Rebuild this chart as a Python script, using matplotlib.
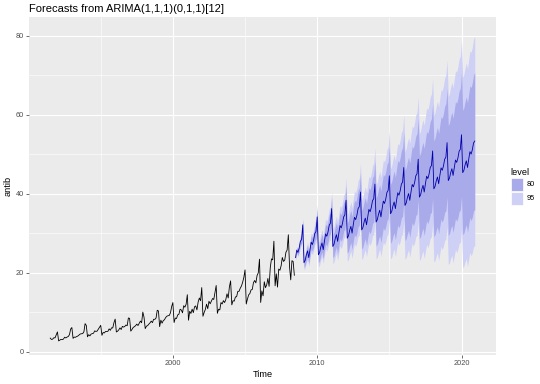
import numpy as np
import matplotlib
matplotlib.use("Agg")
import matplotlib.pyplot as plt
from matplotlib.patches import Rectangle

plt.rcParams['font.family'] = ['Liberation Sans', 'DejaVu Sans']

title = "Forecasts from ARIMA(1,1,1)(0,1,1)[12]"
x_label = "Time"
y_label = "antib"
start_hist = 1991.5   # July 1991, monthly
start_fc = 2008.5     # July 2008, monthly

antib = [
    3.53, 3.18, 3.25, 3.61, 3.57, 4.31,
    5.09, 2.81, 2.99, 3.20, 3.13, 3.27, 3.74, 3.56, 3.78, 3.92, 4.39, 5.81,
    6.19, 3.45, 3.77, 3.73, 3.91, 4.05, 4.32, 4.56, 4.61, 4.67, 5.09, 7.18,
    6.73, 3.84, 4.39, 4.08, 4.54, 4.65, 4.75, 5.35, 5.20, 5.30, 5.77, 6.20,
    6.75, 4.22, 4.95, 4.82, 5.19, 5.17, 5.26, 5.86, 5.49, 6.12, 6.09, 7.42,
    8.33, 5.07, 5.26, 5.60, 6.11, 5.69, 6.49, 6.30, 6.47, 6.83, 6.65, 8.61,
    8.52, 5.28, 5.71, 6.21, 6.41, 6.67, 7.05, 6.70, 7.25, 7.82, 7.40, 10.10,
    8.80, 5.92, 6.53, 6.68, 7.06, 7.38, 7.81, 7.43, 8.28, 8.26, 8.60, 10.56,
    10.39, 6.42, 8.06, 7.30, 7.94, 8.17, 8.72, 9.07, 9.18, 9.25, 9.93, 11.53,
    12.51, 7.46, 8.59, 8.47, 9.39, 9.56, 10.83, 10.64, 9.91, 11.71, 11.34, 12.08,
    14.50, 8.05, 10.31, 9.75, 10.85, 9.96, 11.44, 11.66, 10.65, 12.65, 13.67, 12.97,
    16.30, 9.05, 10.00, 10.79, 12.11, 10.95, 12.84, 12.20, 12.85, 13.54, 13.29, 15.13,
    16.83, 9.80, 10.82, 10.65, 12.51, 12.16, 13.00, 12.52, 13.27, 14.73, 13.67, 16.50,
    18.00, 11.94, 13.00, 12.88, 13.94, 13.99, 15.34, 15.37, 16.14, 16.69, 17.64, 18.87,
    20.78, 12.15, 13.40, 14.46, 14.80, 15.71, 15.83, 17.55, 18.10, 17.50, 19.35, 20.03,
    23.49, 12.54, 15.47, 14.23, 17.78, 16.29, 16.98, 18.61, 16.62, 21.43, 23.58, 23.33,
    28.04, 16.76, 19.79, 16.43, 21.00, 20.68, 21.83, 23.93, 22.93, 23.26, 25.25, 25.81,
    29.67, 21.65, 18.26, 23.11, 22.91, 19.43,
]

fc_mean = [
    23.9, 25.8, 25.2, 26.3, 28.0, 28.5,
    32.2, 22.6, 23.2, 24.6, 25.6, 23.9, 25.9, 27.8, 27.2, 28.3, 30.0, 30.5,
    34.2, 24.6, 25.2, 26.6, 27.6, 25.9, 28.0, 29.9, 29.3, 30.4, 32.1, 32.6,
    36.3, 26.7, 27.3, 28.7, 29.7, 28.0, 30.1, 32.0, 31.4, 32.5, 34.2, 34.7,
    38.4, 28.8, 29.4, 30.8, 31.8, 30.1, 32.2, 34.1, 33.5, 34.6, 36.3, 36.8,
    40.5, 30.9, 31.5, 32.9, 33.9, 32.2, 34.2, 36.1, 35.5, 36.6, 38.3, 38.8,
    42.5, 32.9, 33.5, 34.9, 35.9, 34.2, 36.3, 38.2, 37.6, 38.7, 40.4, 40.9,
    44.6, 35.0, 35.6, 37.0, 38.0, 36.3, 38.4, 40.3, 39.7, 40.8, 42.5, 43.0,
    46.7, 37.1, 37.7, 39.1, 40.1, 38.4, 40.5, 42.4, 41.8, 42.9, 44.6, 45.1,
    48.8, 39.2, 39.8, 41.2, 42.2, 40.5, 42.6, 44.5, 43.9, 45.0, 46.7, 47.2,
    50.9, 41.3, 41.9, 43.3, 44.3, 42.6, 44.7, 46.6, 46.0, 47.1, 48.8, 49.3,
    53.0, 43.4, 44.0, 45.4, 46.4, 44.7, 46.7, 48.6, 48.0, 49.1, 50.8, 51.3,
    55.0, 45.4, 46.0, 47.4, 48.4, 46.7, 48.8, 50.7, 50.1, 51.2, 52.9, 53.4,
]

# half-width of the 95% interval, per forecast month
hw95 = [
    0.64, 0.90, 1.10, 1.28, 1.43, 1.57, 1.70, 1.83, 1.94, 2.06,
    2.17, 2.28, 2.38, 2.49, 2.59, 2.69, 2.80, 2.90, 3.00, 3.10,
    3.20, 3.31, 3.41, 3.51, 3.62, 3.72, 3.83, 3.94, 4.05, 4.16,
    4.27, 4.38, 4.49, 4.61, 4.72, 4.84, 4.96, 5.08, 5.20, 5.33,
    5.45, 5.58, 5.70, 5.83, 5.96, 6.09, 6.23, 6.36, 6.50, 6.63,
    6.77, 6.91, 7.05, 7.20, 7.34, 7.49, 7.63, 7.78, 7.93, 8.08,
    8.24, 8.39, 8.55, 8.70, 8.86, 9.02, 9.18, 9.34, 9.51, 9.67,
    9.84, 10.00, 10.17, 10.34, 10.51, 10.69, 10.86, 11.03, 11.21, 11.39,
    11.57, 11.75, 11.93, 12.11, 12.29, 12.48, 12.66, 12.85, 13.04, 13.23,
    13.42, 13.61, 13.80, 14.00, 14.19, 14.39, 14.58, 14.78, 14.98, 15.18,
    15.38, 15.59, 15.79, 15.99, 16.20, 16.41, 16.62, 16.83, 17.04, 17.25,
    17.46, 17.67, 17.89, 18.10, 18.32, 18.53, 18.75, 18.97, 19.19, 19.41,
    19.64, 19.86, 20.08, 20.31, 20.54, 20.76, 20.99, 21.22, 21.45, 21.68,
    21.91, 22.15, 22.38, 22.61, 22.85, 23.09, 23.32, 23.56, 23.80, 24.04,
    24.28, 24.53, 24.77, 25.01, 25.26, 25.50, 25.75, 26.00, 26.25, 26.50,
]

Z80, Z95 = 1.2816, 1.96
levels = ["80", "95"]
level_colors = {"80": "#A9AAEA", "95": "#CFD0F6"}
xticks = [2000, 2010, 2020]
xminor = [1995, 2005, 2015]
yticks = [0, 20, 40, 60, 80]
yminor = [10, 30, 50, 70]

t_hist = start_hist + np.arange(len(antib)) / 12.0
t_fc = start_fc + np.arange(len(fc_mean)) / 12.0
mean = np.array(fc_mean)
hw = np.array(hw95)
hw80 = hw * Z80 / Z95

W, H = 540, 384
fig = plt.figure(figsize=(W / 100, H / 100), dpi=100)
L, R, T, B = 29, 496, 17, 355
ax = fig.add_axes([L / W, 1 - B / H, (R - L) / W, (B - T) / H])
ax.set_facecolor('#EBEBEB')

ax.fill_between(t_fc, mean - hw, mean + hw, color=level_colors["95"], lw=0, zorder=2)
ax.fill_between(t_fc, mean - hw80, mean + hw80, color=level_colors["80"], lw=0, zorder=3)
ax.plot(t_hist, antib, color='black', lw=0.6, zorder=4)
ax.plot(t_fc, mean, color='#0000AA', lw=0.6, zorder=5)

ax.set_xlim(1990.03, 2022.39)
ax.set_ylim(-0.76, 84.8)
ax.set_xticks(xticks)
ax.set_xticklabels([str(v) for v in xticks])
ax.set_xticks(xminor, minor=True)
ax.set_yticks(yticks)
ax.set_yticklabels([str(v) for v in yticks])
ax.set_yticks(yminor, minor=True)
ax.grid(which='major', color='white', lw=0.8)
ax.grid(which='minor', color='white', lw=0.4)
ax.set_axisbelow(True)
for s in ax.spines.values():
    s.set_visible(False)
ax.tick_params(which='major', length=2.2, width=0.5, color='#333333',
               labelsize=5.3, labelcolor='#4D4D4D', pad=1.5)
ax.tick_params(which='minor', length=0)

ax.set_xlabel(x_label, fontsize=6.6, labelpad=2)
ax.set_ylabel(y_label, fontsize=6.6, labelpad=2)

fig.text(L / W, 1 - 12.5 / H, title, fontsize=8, ha='left', va='baseline')

# legend
fig.text(510 / W, 1 - 175 / H, "level", fontsize=6.6, ha='left', va='baseline')
key_top = 178.5
for i, lv in enumerate(levels):
    y0 = key_top + i * 13.5
    fig.add_artist(Rectangle((510.5 / W, 1 - (y0 + 12.5) / H), 12.5 / W, 12.5 / H,
                             transform=fig.transFigure, facecolor=level_colors[lv],
                             edgecolor='white', lw=0.5))
    fig.text(527 / W, 1 - (y0 + 6.5) / H, lv, fontsize=5.3, ha='left', va='center',
             color='black')

fig.savefig("out.png", dpi=100)
